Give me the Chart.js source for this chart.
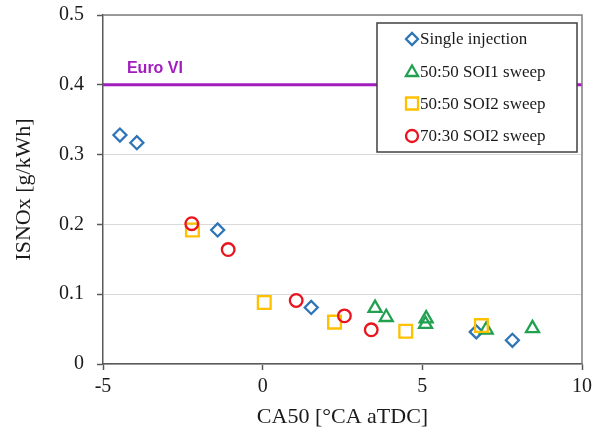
<!DOCTYPE html>
<html>
<head>
<meta charset="utf-8">
<script src="https://cdn.jsdelivr.net/npm/chart.js@4/dist/chart.umd.min.js"></script>
<style>
  html, body { margin: 0; padding: 0; background: #ffffff; }
  #wrap { width: 606px; height: 431px; }
</style>
</head>
<body>
<div id="wrap"><canvas id="c" width="606" height="431"></canvas></div>
<script>
// ---- Data ----
const seriesLabels = ['Single injection', '50:50 SOI1 sweep', '50:50 SOI2 sweep', '70:30 SOI2 sweep'];

const singleX = [-4.47, -3.94, -1.41, 1.52, 6.69, 7.82];
const singleY = [0.328, 0.317, 0.192, 0.081, 0.046, 0.034];

const soi1X = [3.52, 3.87, 5.12, 5.10, 7.00, 8.45];
const soi1Y = [0.080, 0.067, 0.065, 0.057, 0.049, 0.051];

const soi2X = [-2.20, 0.05, 2.25, 4.48, 6.85];
const soi2Y = [0.192, 0.088, 0.060, 0.047, 0.055];

const r7030X = [-2.22, -1.08, 1.05, 2.56, 3.40];
const r7030Y = [0.201, 0.164, 0.091, 0.069, 0.049];

const euroLabel = 'Euro VI';
const euroLimit = 0.4;

const xTicks = [-5, 0, 5, 10];
const yTicks = [0, 0.1, 0.2, 0.3, 0.4, 0.5];
const xTitle = 'CA50 [°CA aTDC]';
const yTitle = 'ISNOx [g/kWh]';

// ---- Styles ----
const colors = ['#2E75B6', '#21A150', '#FFC000', '#E8141E'];
const styles = ['rectRot', 'triangle', 'rect', 'circle'];
const radii = [6.5, 7.5, 9, 6.3];
const legendRadii = [6, 7, 8.5, 6];
const euroColor = '#A21DBE';
const serif = "'Liberation Serif', 'DejaVu Serif', serif";

function pts(xs, ys) { return xs.map((x, i) => ({ x: x, y: ys[i] })); }

const seriesData = [pts(singleX, singleY), pts(soi1X, soi1Y), pts(soi2X, soi2Y), pts(r7030X, r7030Y)];
const drawOrder = [4, 3, 2, 1];

const datasets = seriesData.map((d, i) => ({
  type: 'scatter',
  label: seriesLabels[i],
  data: d,
  pointStyle: styles[i],
  pointRadius: radii[i],
  pointHoverRadius: radii[i],
  borderColor: colors[i],
  backgroundColor: 'rgba(0,0,0,0)',
  pointBorderWidth: 2.3,
  borderWidth: 2.3,
  order: drawOrder[i]
}));

datasets.push({
  type: 'line',
  label: euroLabel,
  data: [{ x: xTicks[0], y: euroLimit }, { x: xTicks[xTicks.length - 1], y: euroLimit }],
  borderColor: euroColor,
  borderWidth: 3,
  pointRadius: 0,
  fill: false,
  order: 10
});

const framePlugin = {
  id: 'frame',
  afterDatasetsDraw(chart) {
    const ctx = chart.ctx;
    const a = chart.chartArea;
    const xs = chart.scales.x, ys = chart.scales.y;
    ctx.save();
    // top and right frame
    ctx.strokeStyle = '#7f7f7f';
    ctx.lineWidth = 1.5;
    ctx.beginPath();
    ctx.moveTo(a.left, a.top);
    ctx.lineTo(a.right, a.top);
    ctx.lineTo(a.right, a.bottom);
    ctx.stroke();

    // Euro VI label
    ctx.fillStyle = euroColor;
    ctx.font = "bold 16px 'Liberation Sans', Arial, sans-serif";
    ctx.textAlign = 'left';
    ctx.textBaseline = 'middle';
    ctx.fillText(euroLabel, xs.getPixelForValue(-4.25), ys.getPixelForValue(euroLimit) - 16);

    // Legend box
    const bx = 377, by = 23, bw = 200, bh = 129;
    ctx.fillStyle = '#ffffff';
    ctx.fillRect(bx, by, bw, bh);
    ctx.strokeStyle = '#404040';
    ctx.lineWidth = 1.5;
    ctx.strokeRect(bx, by, bw, bh);
    const rowY = [39, 71.5, 103.5, 136];
    for (let i = 0; i < seriesLabels.length; i++) {
      const mx = 412, my = rowY[i];
      ctx.strokeStyle = colors[i];
      ctx.fillStyle = 'rgba(0,0,0,0)';
      ctx.lineWidth = 2.3;
      Chart.helpers.drawPoint(ctx, {
        pointStyle: styles[i],
        radius: legendRadii[i],
        rotation: 0,
        borderWidth: 2.3
      }, mx, my + (i === 1 ? 1 : 0));
      ctx.fillStyle = '#1a1a1a';
      ctx.font = "17px " + serif;
      ctx.textAlign = 'left';
      ctx.textBaseline = 'middle';
      ctx.fillText(seriesLabels[i], 420, my + 1);
    }
    ctx.restore();
  }
};

new Chart(document.getElementById('c'), {
  data: { datasets: datasets },
  options: {
    responsive: false,
    animation: false,
    devicePixelRatio: 1,
    layout: { padding: { left: 0, right: 24, top: 15, bottom: 0 } },
    plugins: { legend: { display: false }, tooltip: { enabled: false } },
    scales: {
      x: {
        type: 'linear',
        min: xTicks[0],
        max: xTicks[xTicks.length - 1],
        afterBuildTicks(scale) { scale.ticks = xTicks.map(v => ({ value: v })); },
        afterFit(scale) { scale.height = 67; scale.paddingLeft = 0; scale.paddingRight = 0; },
        ticks: {
          color: '#1a1a1a',
          font: { family: serif, size: 20 },
          padding: 5,
          maxRotation: 0,
          callback: v => String(v)
        },
        grid: { drawOnChartArea: false, drawTicks: true, tickLength: 6, tickColor: '#595959', tickWidth: 1.5 },
        border: { color: '#595959', width: 1.5 },
        title: {
          display: true,
          text: xTitle,
          color: '#1a1a1a',
          font: { family: serif, size: 22 },
          padding: { top: 0, bottom: 1 }
        }
      },
      y: {
        type: 'linear',
        min: yTicks[0],
        max: yTicks[yTicks.length - 1],
        afterBuildTicks(scale) { scale.ticks = yTicks.map(v => ({ value: v })); },
        afterFit(scale) { scale.width = 103; scale.paddingTop = 0; scale.paddingBottom = 0; },
        ticks: {
          color: '#1a1a1a',
          font: { family: serif, size: 20 },
          padding: 13,
          callback: v => (v === 0 ? '0' : Number(v).toFixed(1))
        },
        grid: { color: '#d9d9d9', lineWidth: 1, drawTicks: true, tickLength: 6, tickColor: '#595959', tickWidth: 1.5 },
        border: { color: '#595959', width: 1.5 },
        title: {
          display: true,
          text: yTitle,
          color: '#1a1a1a',
          font: { family: serif, size: 22 },
          padding: { top: 11, bottom: 0 }
        }
      }
    }
  },
  plugins: [framePlugin]
});
</script>
</body>
</html>
